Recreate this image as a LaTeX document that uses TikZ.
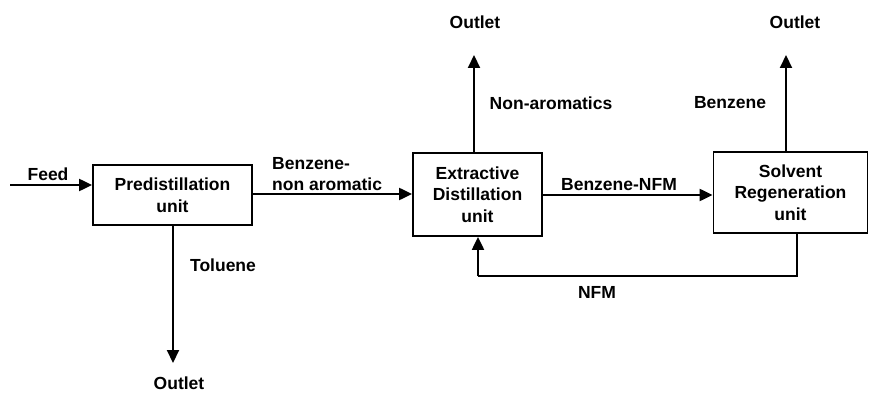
\documentclass[tikz,border=0pt]{standalone}
\usepackage{fontspec}
\setmainfont{Liberation Sans}
\usetikzlibrary{arrows.meta}
\begin{document}
\begin{tikzpicture}[x=1pt,y=-1pt,
  every node/.style={font=\fontsize{17.5}{21.5}\selectfont\bfseries, inner sep=0pt},
  unitbox/.style={draw, line width=1.8pt, align=center},
  flow/.style={line width=2.1pt, -{Triangle[length=13pt,width=12pt]}},
  plain/.style={line width=2.1pt},
  lbl/.style={anchor=center}]
\useasboundingbox (0,0) rectangle (870,393);
% boxes
\node[unitbox, minimum width=159pt, minimum height=60pt] (pre) at (172.5,195) {Predistillation\\unit};
\node[unitbox, minimum width=129pt, minimum height=83pt] (ext) at (477.5,194.5) {Extractive\\Distillation\\unit};
\node[unitbox, minimum width=154pt, minimum height=81pt] (sol) at (790.5,192.5) {Solvent\\Regeneration\\unit};
% coordinates
\coordinate (feedin) at (10,185);
\coordinate (out1) at (474,55);
\coordinate (out2) at (786,55);
\coordinate (out3) at (173,363);
\coordinate (rr) at (797,276);
\coordinate (rl) at (478,276);
% connectors
\draw[flow] (feedin) -- (feedin -| pre.west);
\draw[flow] (pre.east |- 0,194) -- (ext.west |- 0,194);
\draw[flow] (ext.east |- 0,195) -- (sol.west |- 0,195);
\draw[flow] (out1 |- ext.north) -- (out1);
\draw[flow] (out2 |- sol.north) -- (out2);
\draw[flow] (out3 |- pre.south) -- (out3);
\draw[plain] (rr |- sol.south) -- (rr) -- (rl);
\draw[flow] (rl) -- (rl |- ext.south);
% labels
\node[lbl] (lfeed) at (48,174) {Feed};
\node[anchor=west, align=left] (lbna) at (272,174) {Benzene-\\non aromatic};
\node[lbl] (lout1) at (475,22) {Outlet};
\node[lbl] (lnon) at (551,103) {Non-aromatics};
\node[lbl] (lbnfm) at (619,185) {Benzene-NFM};
\node[lbl] (lout2) at (795,22) {Outlet};
\node[lbl] (lbenz) at (730,103) {Benzene};
\node[lbl] (ltol) at (223,265) {Toluene};
\node[lbl] (lout3) at (179,383) {Outlet};
\node[lbl] (lnfm) at (597,292) {NFM};
\end{tikzpicture}
\end{document}
